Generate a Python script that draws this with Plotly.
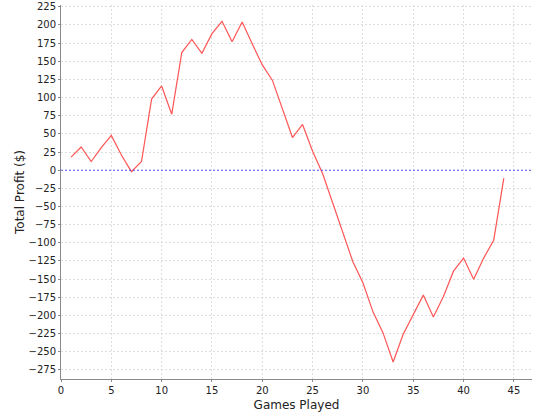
import plotly.graph_objects as go

games = list(range(1, 45))
profit = [18, 32, 12, 31, 48, 21, -2, 12, 98, 116, 77, 162, 180, 161, 188, 205, 177, 204,
          174, 145, 124, 84, 45, 63, 26, -5, -46, -87, -126, -155, -195, -224, -264, -226,
          -198, -172, -202, -174, -139, -121, -150, -121, -96, -11]

x_ticks = list(range(0, 50, 5))
y_ticks = list(range(-275, 250, 25))

fig = go.Figure()
fig.add_trace(go.Scatter(x=games, y=profit, mode="lines",
                         line=dict(color="#ff5555", width=1.2), showlegend=False,
                         hoverinfo="x+y"))
fig.add_hline(y=0, line=dict(color="rgba(60,60,255,0.85)", width=1, dash="2px,2px"))

axis_common = dict(showgrid=True, gridcolor="#dddddd", griddash="2px,2px", gridwidth=1,
                   showline=True, linecolor="#8a8a8a", linewidth=1, zeroline=False,
                   ticks="outside", ticklen=2, tickcolor="#8a8a8a",
                   tickfont=dict(family="DejaVu Sans", size=10, color="#222222"),
                   mirror=False, automargin=False)

fig.update_layout(
    width=540, height=420,
    margin=dict(l=61, r=8, t=5, b=41),
    paper_bgcolor="white", plot_bgcolor="white",
    xaxis=dict(range=[0, 46.8], tickvals=x_ticks,
               title=dict(text="Games Played", font=dict(family="DejaVu Sans", size=12, color="#222222"), standoff=5),
               **axis_common),
    yaxis=dict(range=[-287.5, 227.5], tickvals=y_ticks,
               title=dict(text="Total Profit ($)", font=dict(family="DejaVu Sans", size=12, color="#222222"), standoff=1),
               **axis_common),
)

fig.write_html("out.html", config={"displayModeBar": False},
               post_script="document.body.style.margin='0';")
